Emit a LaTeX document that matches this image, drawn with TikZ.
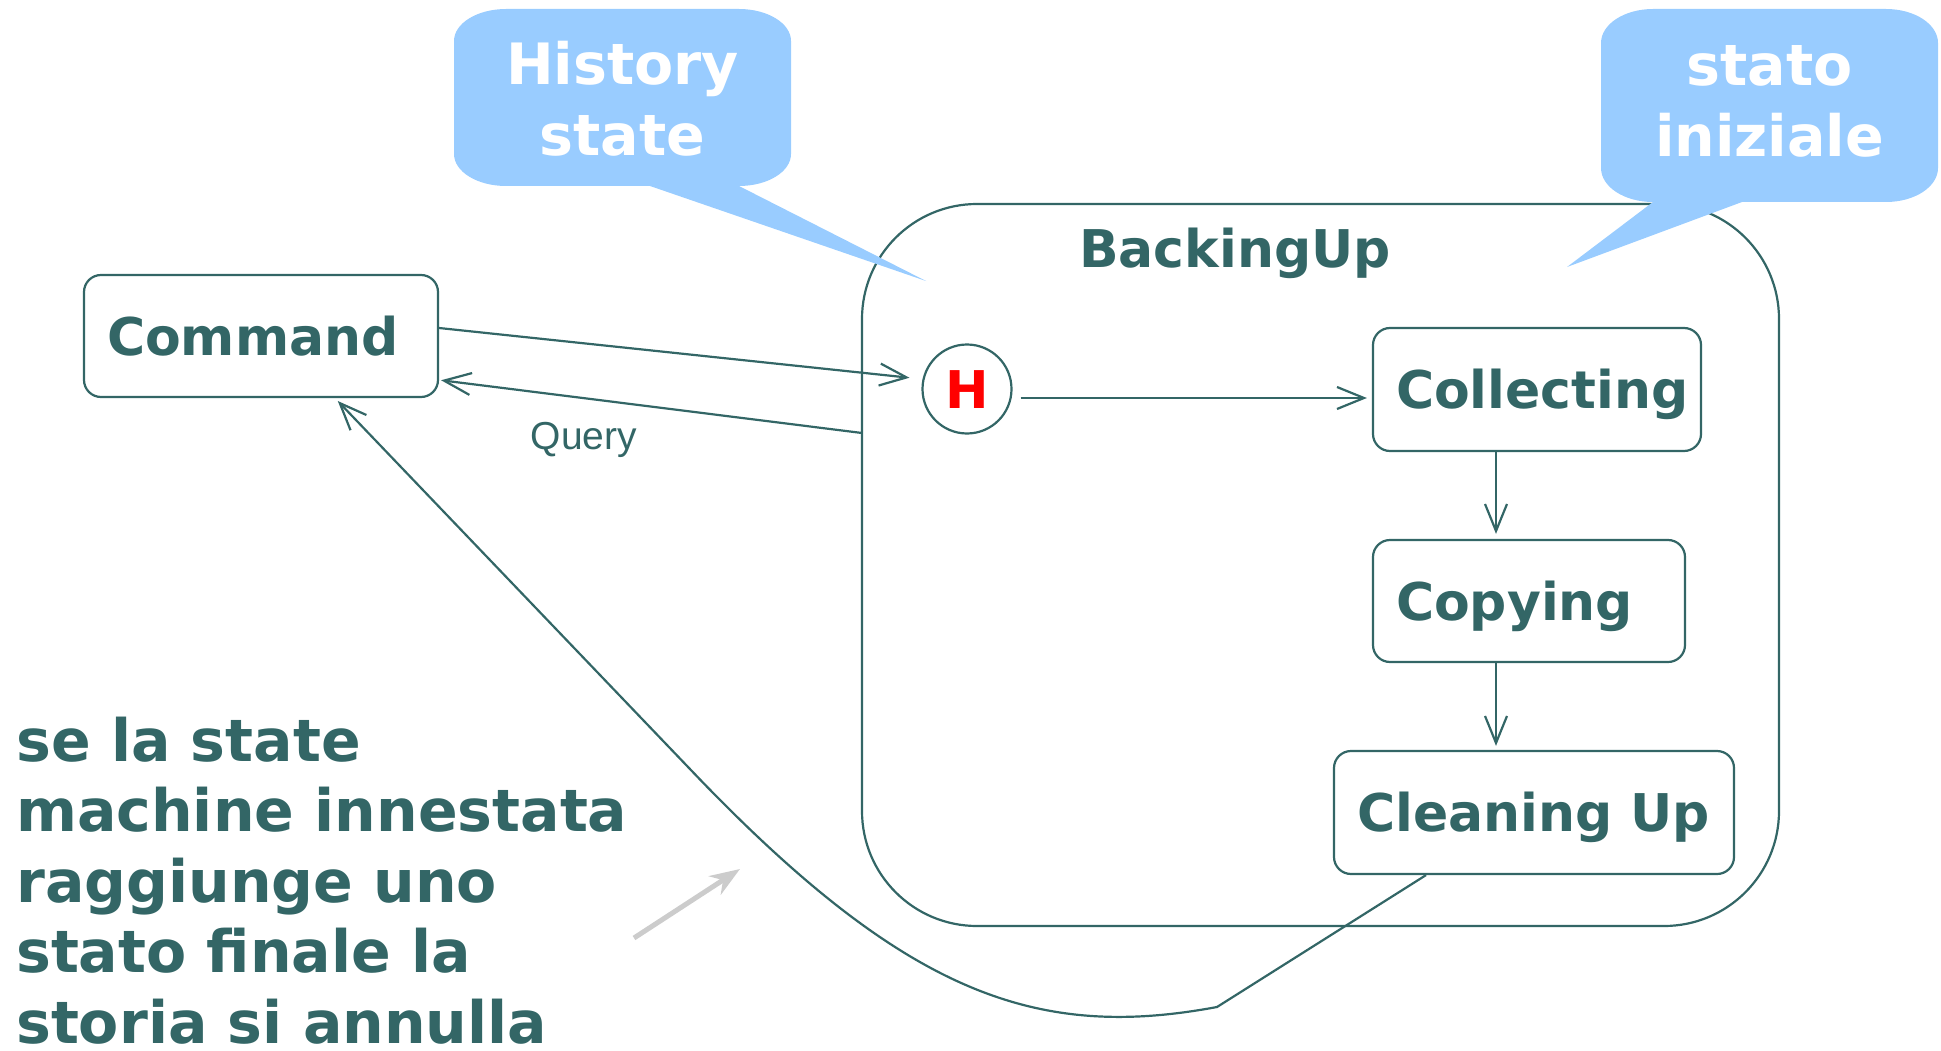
\documentclass[tikz,border=0pt]{standalone}
\usepackage{fontspec}
\setmainfont{DejaVu Sans}
\newfontfamily\qfam{Liberation Sans}
\usetikzlibrary{arrows.meta,calc}
\definecolor{tealc}{HTML}{336666}
\definecolor{bubc}{HTML}{99CCFF}
\definecolor{grayc}{HTML}{CCCCCC}
\newcommand\bigf{\fontsize{52}{60}\selectfont\bfseries}
\newcommand\bubf{\fontsize{57}{71}\selectfont\bfseries}
\newcommand\comf{\fontsize{58.5}{70.4}\selectfont\bfseries}
\newcommand\qfnt{\fontsize{39}{45}\selectfont\qfam}
\begin{document}
\begin{tikzpicture}[x=1pt,y=-1pt,
  conn/.style={draw=tealc, line width=2.2pt, -{Straight Barb[length=27pt,width=22pt]}},
  stbox/.style={draw=tealc, line width=2.2pt, rounded corners=17pt, text=tealc, font=\bigf,
     inner xsep=23pt, inner ysep=0pt, text height=38pt, text depth=0pt},
  bubble/.style={fill=bubc, draw=none},
  bubtext/.style={text=white, font=\bubf, align=center, inner sep=0pt, anchor=base}
 ]
\useasboundingbox (0,0) rectangle (1941,1051);

% composite state
\node[draw=tealc, line width=2.2pt, rounded corners=115pt, minimum width=917pt,
      minimum height=722pt, inner sep=0pt] (bu) at (1320.5,565) {};
\node[text=tealc, font=\bigf, anchor=base, inner sep=0pt] (bulabel) at (1235,267) {BackingUp};

% states
\node[stbox, minimum width=354pt, minimum height=122pt] (cmd) at (261,336) {\makebox[308pt][l]{Command}};
\node[stbox, minimum width=328pt, minimum height=123pt] (col) at (1537,389.5) {\makebox[282pt][l]{Collecting}};
\node[stbox, minimum width=312pt, minimum height=122pt] (copy) at (1529,601) {\makebox[266pt][l]{Copying}};
\node[stbox, minimum width=400pt, minimum height=123pt] (clean) at (1534,812.5) {\makebox[354pt][l]{Cleaning Up}};

% history pseudo-state
\node[draw=tealc, line width=2.2pt, circle, minimum size=89pt, inner sep=0pt, text=red,
      font=\bigf, text height=38pt, text depth=0pt] (hist) at (967,389) {H};

% connectors
\draw[conn, shorten >=12pt] (cmd.east |- 0,328) -- (hist.west |- 0,379);
\coordinate (qstart) at (862,433);
\draw[conn, shorten >=2pt] (qstart) -- (cmd.east |- 0,380);
\node[text=tealc, font=\qfnt, anchor=base, inner sep=0pt] (qlabel) at (584,449) {Query};
\draw[conn, shorten <=8pt, shorten >=5pt] (hist.east |- 0,398) -- (col.west |- 0,398);
\draw[conn, shorten >=5pt] (col.south -| 1496,0) -- (copy.north -| 1496,0);
\draw[conn, shorten >=4pt] (copy.south -| 1496,0) -- (clean.north -| 1496,0);
\coordinate (bend) at (1217,1007);
\coordinate (curveend) at (700,779.5);
\draw[conn, shorten >=4pt] (clean.south -| 1426,0) -- (bend)
   .. controls (1040,1040) and (910,997) .. (curveend) -- (cmd.south -| 335,0);

% grey pointer
\coordinate (gtail) at (634,938);
\coordinate (gtip) at (740,869);
\draw[grayc, line width=5pt, -{Stealth[length=30pt,width=22pt]}] (gtail) -- (gtip);

% comment text
\node[text=tealc, font=\comf, align=left, anchor=base west, inner sep=0pt, text depth=0pt] (comment) at (16,1043)
  {se la state\\machine innestata\\raggiunge uno\\stato finale la\\storia si annulla};

% callouts
\path[bubble] (506,9) -- (739,9) .. controls (767.7,9) and (791,23.3) .. (791,41)
  -- (791,154) .. controls (791,171.7) and (767.7,186) .. (739,186)
  -- (926,281) -- (650,186) -- (506,186)
  .. controls (477.3,186) and (454,171.7) .. (454,154)
  -- (454,41) .. controls (454,23.3) and (477.3,9) .. (506,9) -- cycle;
\node[bubtext] (histnote) at (622.5,156) {History\\state};

\path[bubble] (1653,9) -- (1886,9) .. controls (1914.7,9) and (1938,24.2) .. (1938,43)
  -- (1938,168) .. controls (1938,186.8) and (1914.7,202) .. (1886,202)
  -- (1742,202) -- (1567,267) -- (1653,202)
  .. controls (1624.3,202) and (1601,186.8) .. (1601,168)
  -- (1601,43) .. controls (1601,24.2) and (1624.3,9) .. (1653,9) -- cycle;
\node[bubtext] (initnote) at (1769.5,157) {stato\\iniziale};
\end{tikzpicture}
\end{document}
